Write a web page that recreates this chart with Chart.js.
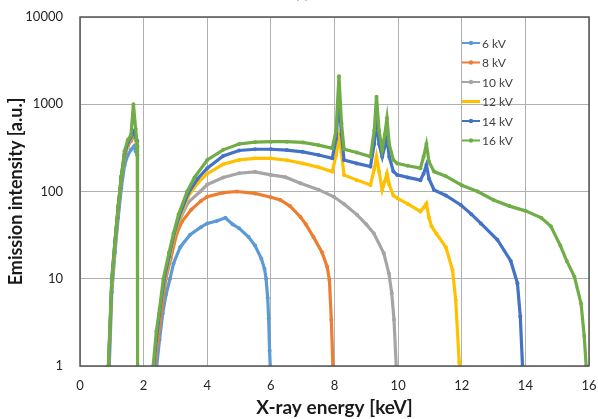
<!DOCTYPE html>
<html>
<head>
<meta charset="utf-8">
<script src="https://cdn.jsdelivr.net/npm/chart.js"></script>
<style>
  html, body { margin: 0; padding: 0; background: #fff; }
  canvas { display: block; }
</style>
</head>
<body>
<canvas id="spectra" width="598" height="419"></canvas>
<script>
const seriesLabels = ["6 kV", "8 kV", "10 kV", "12 kV", "14 kV", "16 kV"];
const seriesColors = ["#5B9BD5", "#ED7D31", "#A5A5A5", "#FFC000", "#4472C4", "#70AD47"];
const xTicks = [0, 2, 4, 6, 8, 10, 12, 14, 16];
const yTicks = [1, 10, 100, 1000, 10000];

// energy [keV] / intensity [a.u.] per tube voltage, null = gap between Si peak and continuum
const kv6Energy = [0.92, 1.0, 1.1, 1.2, 1.3, 1.4, 1.5, 1.6, 1.7, 1.75, 1.8, 2.0,
  2.41, 2.5, 2.6, 2.7, 2.83, 2.94, 3.15, 3.46, 3.8, 4.0, 4.3, 4.57, 4.8, 5.0, 5.3, 5.5, 5.7, 5.8, 5.85, 5.9, 5.93, 5.96, 5.98];
const kv6Intensity = [1, 7, 20, 50, 110, 200, 260, 300, 330, 290, 260, null,
  1, 2, 4, 6.5, 10, 15, 23, 32, 39, 43, 46, 50, 42, 38, 30, 24, 17, 13, 10, 6, 3.5, 1.5, 1];

const kv8Energy = [0.9, 1.0, 1.1, 1.2, 1.3, 1.4, 1.5, 1.6, 1.7, 1.75, 1.8, 2.0,
  2.35, 2.45, 2.55, 2.7, 2.85, 3.04, 3.2, 3.5, 3.8, 4.0, 4.5, 4.93, 5.5, 6.0, 6.3, 6.6, 6.93, 7.1, 7.34, 7.61, 7.77, 7.84, 7.9, 7.95];
const kv8Intensity = [1, 9, 25, 62, 140, 250, 330, 380, 440, 390, 340, null,
  1, 2, 4, 10, 17, 33, 45, 62, 78, 87, 97, 100, 95, 86, 80, 68, 51, 42, 30, 20, 13.7, 9.7, 3.4, 1];

const kv10Energy = [0.9, 1.0, 1.1, 1.2, 1.3, 1.4, 1.5, 1.6, 1.7, 1.75, 1.8, 2.0,
  2.32, 2.4, 2.5, 2.67, 2.8, 2.97, 3.1, 3.4, 3.78, 4.0, 4.5, 5.0, 5.5, 6.0, 6.46, 6.93, 7.5, 7.98, 8.3, 8.71, 9.0, 9.24, 9.55, 9.71, 9.8, 9.87, 9.94];
const kv10Intensity = [1, 9, 26, 64, 145, 260, 345, 400, 460, 400, 360, null,
  1, 2, 4, 10, 16, 33, 45, 75, 100, 120, 145, 162, 168, 155, 146, 124, 105, 87, 72, 54, 42, 33, 19.6, 11.5, 6.8, 3.4, 1];

const kv12Energy = [0.9, 1.0, 1.1, 1.2, 1.3, 1.4, 1.5, 1.6, 1.7, 1.75, 1.8, 2.0,
  2.32, 2.4, 2.5, 2.66, 2.8, 2.97, 3.1, 3.4, 3.7, 4.0, 4.5, 5.0, 5.5, 6.0, 6.5, 7.0, 7.5, 7.93,
  8.05, 8.14, 8.22, 8.3, 8.7, 9.13, 9.25, 9.32, 9.4, 9.5, 9.58, 9.65, 9.72, 9.85, 9.97, 10.3, 10.7,
  10.8, 10.89, 10.97, 11.05, 11.2, 11.5, 11.71, 11.81, 11.92, 11.95];
const kv12Intensity = [1, 9, 26, 65, 148, 265, 350, 410, 470, 410, 370, null,
  1, 2, 4, 10, 17, 32, 47, 88, 125, 160, 205, 230, 240, 240, 228, 210, 190, 169,
  260, 417, 280, 155, 135, 119, 180, 251, 170, 104, 130, 161, 120, 90, 84, 72, 59,
  65, 73, 50, 40, 33, 23, 12.6, 5.7, 1.1, 1];

const kv14Energy = [0.9, 1.0, 1.1, 1.2, 1.3, 1.4, 1.5, 1.6, 1.7, 1.75, 1.8, 2.0,
  2.32, 2.4, 2.5, 2.65, 2.8, 2.96, 3.1, 3.4, 3.7, 4.0, 4.5, 5.0, 5.5, 6.0, 6.5, 7.0, 7.5, 7.93,
  8.05, 8.14, 8.22, 8.3, 8.7, 9.13, 9.25, 9.32, 9.4, 9.5, 9.58, 9.65, 9.72, 9.85, 9.97, 10.3, 10.7,
  10.8, 10.89, 10.97, 11.13, 11.5, 11.97, 12.3, 12.6, 13.12, 13.54, 13.75, 13.84, 13.91];
const kv14Intensity = [1, 10, 27, 66, 150, 270, 360, 420, 490, 420, 380, null,
  1, 2, 4, 10, 18, 33, 50, 95, 140, 185, 255, 295, 305, 305, 298, 285, 262, 240,
  400, 1170, 450, 230, 210, 193, 350, 660, 350, 250, 330, 407, 250, 170, 155, 145, 135,
  160, 201, 140, 104, 90, 70, 55, 43, 28, 16, 8.9, 3.7, 1];

const kv16Energy = [0.89, 1.0, 1.1, 1.2, 1.3, 1.4, 1.5, 1.6, 1.68, 1.75, 1.8, 1.81, 2.0,
  2.3, 2.4, 2.5, 2.62, 2.8, 2.94, 3.1, 3.37, 3.6, 4.0, 4.5, 5.0, 5.5, 6.0, 6.5, 7.0, 7.5, 7.93,
  8.05, 8.14, 8.22, 8.3, 8.7, 9.13, 9.25, 9.32, 9.4, 9.5, 9.58, 9.65, 9.72, 9.85, 9.97, 10.3, 10.7,
  10.8, 10.89, 10.97, 11.13, 11.5, 12.0, 12.5, 13.0, 13.5, 14.0, 14.5, 14.8, 15.1, 15.3, 15.54, 15.75, 15.85, 15.91];
const kv16Intensity = [1, 10, 27, 68, 150, 290, 390, 440, 1000, 520, 330, 1, null,
  1, 2.5, 4.5, 10, 20, 33, 55, 100, 145, 230, 300, 350, 368, 372, 372, 365, 340, 313,
  500, 2100, 600, 305, 280, 251, 500, 1220, 500, 300, 450, 690, 350, 230, 210, 197, 185,
  250, 350, 220, 169, 150, 118, 100, 80, 68, 60, 50, 40, 24, 16, 10.6, 5.2, 2.2, 1];

const energies = [kv6Energy, kv8Energy, kv10Energy, kv12Energy, kv14Energy, kv16Energy];
const intensities = [kv6Intensity, kv8Intensity, kv10Intensity, kv12Intensity, kv14Intensity, kv16Intensity];

const FONT = "Lato, 'Liberation Sans', sans-serif";

// legend sits inside the plot, top right, over the grid
const insideLegend = {
  id: "insideLegend",
  afterDatasetsDraw(chart) {
    const ctx = chart.ctx;
    ctx.save();
    ctx.font = "12px " + FONT;
    ctx.textBaseline = "middle";
    ctx.textAlign = "left";
    chart.data.datasets.forEach((ds, i) => {
      const y = 43 + i * 19.5;
      ctx.strokeStyle = ds.borderColor;
      ctx.lineWidth = i === 3 ? 3 : 2;
      ctx.beginPath();
      ctx.moveTo(462, y);
      ctx.lineTo(480, y);
      ctx.stroke();
      if (i !== 3) {
        ctx.fillStyle = ds.borderColor;
        ctx.beginPath();
        ctx.arc(471, y, 2.2, 0, Math.PI * 2);
        ctx.fill();
      }
      ctx.fillStyle = "#404040";
      ctx.fillText(ds.label, 482, y + 1);
    });
    ctx.restore();
  }
};

// dark frame round the plot area + the cut-off panel label
const frame = {
  id: "frame",
  afterDraw(chart) {
    const { ctx, chartArea: a } = chart;
    ctx.save();
    ctx.strokeStyle = "#555555";
    ctx.lineWidth = 1.5;
    ctx.strokeRect(a.left, a.top, a.right - a.left, a.bottom - a.top);
    ctx.fillStyle = "#777";
    ctx.font = "13px " + FONT;
    ctx.textAlign = "center";
    ctx.textBaseline = "alphabetic";
    ctx.fillText("(a)", 302, -1);
    ctx.restore();
  }
};

const ctx = document.getElementById("spectra");

new Chart(ctx, {
  type: "line",
  data: {
    datasets: seriesLabels.map((label, i) => ({
      label: label,
      data: energies[i].map((e, j) => ({ x: e, y: intensities[i][j] })),
      borderColor: seriesColors[i],
      backgroundColor: seriesColors[i],
      borderWidth: 3.2,
      pointRadius: 2,
      pointBorderWidth: 0,
      pointHoverRadius: 2,
      tension: 0,
      spanGaps: false,
      order: 5 - i,
    })),
  },
  options: {
    responsive: false,
    devicePixelRatio: 1,
    animation: false,
    layout: { padding: { top: 17, right: 9, left: 0, bottom: 0 } },
    plugins: {
      legend: { display: false },
      tooltip: { enabled: false },
    },
    scales: {
      x: {
        type: "linear",
        min: 0,
        max: 16,
        afterBuildTicks: (axis) => { axis.ticks = xTicks.map(v => ({ value: v })); },
        afterFit: (scale) => {
          scale.height = 53;
          scale.paddingLeft = 0;
          scale.paddingRight = 0;
        },
        grid: { color: "#b0b0b0", lineWidth: 1, drawTicks: false },
        border: { display: false },
        ticks: { padding: 12, color: "#262626", font: { family: FONT, size: 13 } },
        title: {
          display: true,
          text: "X-ray energy [keV]",
          color: "#1a1a1a",
          font: { family: FONT, size: 19, weight: "bold" },
          padding: { top: 0, bottom: 0 },
        },
      },
      y: {
        type: "logarithmic",
        min: 1,
        max: 10000,
        afterBuildTicks: (axis) => { axis.ticks = yTicks.map(v => ({ value: v })); },
        afterFit: (scale) => {
          scale.width = 80;
          scale.paddingTop = 0;
          scale.paddingBottom = 0;
        },
        grid: { color: "#b0b0b0", lineWidth: 1, drawTicks: false },
        border: { display: false },
        ticks: {
          padding: 17,
          color: "#262626",
          font: { family: FONT, size: 13 },
          callback: (v) => String(v),
        },
        title: {
          display: true,
          text: "Emission intensity [a.u.]",
          color: "#1a1a1a",
          font: { family: FONT, size: 18, weight: "bold" },
          padding: { top: 5, bottom: 0 },
        },
      },
    },
  },
  plugins: [insideLegend, frame],
});
</script>
</body>
</html>
